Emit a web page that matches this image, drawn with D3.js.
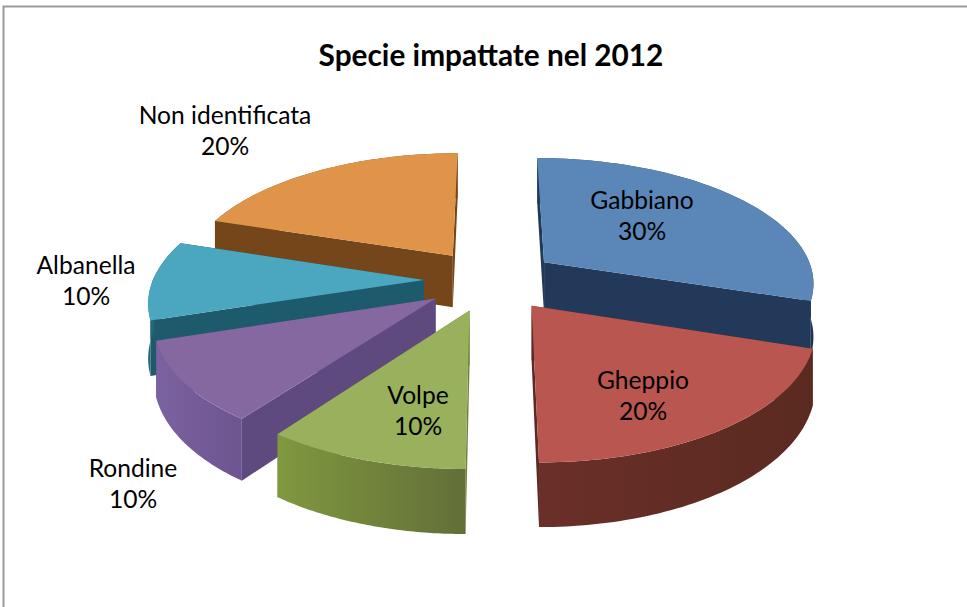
<!DOCTYPE html>
<html><head><meta charset="utf-8">
<script src="https://cdn.jsdelivr.net/npm/d3@7"></script>
<style>html,body{margin:0;background:#fff}svg{display:block}text{font-family:Lato,"Open Sans",sans-serif;fill:#000}</style>
</head><body><svg id="c" width="967" height="607"></svg>
<script>
const categories=["Gabbiano","Gheppio","Volpe","Rondine","Albanella","Non identificata"];
const values=[30,20,10,10,10,20];
const topColors=["#5a87b8","#b95650","#99b05c","#8568a0","#4ba6c0","#e09449"];
const sideColors=["#23395a","#5c2a22","#6d8038","#5f4a80","#1d5a6c","#744619"];
const rimLeft=["#2a4a70","#6a2f28","#80983f","#7b62a0","#23677b","#8a5520"];
const rimRight=["#203650","#5a2a20","#626f38","#6d5590","#1f5a6c","#7a4a1c"];
const drawOrder=[5,0,4,3,1,2];
const labelAnchors=[[642,201],[643,381],[418,396],[133,469],[86,266],[225,116]];

const W=967,H=607,cx=491,cy=280,R=271,explode=67,persp=0.15,tilt=0.46,depth=53;
const svg=d3.select("#c");
const defs=svg.append("defs");
svg.append("path").attr("d",`M3.5,${H} V6.5 H${W}`).attr("fill","none").attr("stroke","#9a9a9a").attr("stroke-width",2);
const radius=d3.scaleLinear().domain([0,1]).range([0,R]);
const pie=d3.pie().sort(null).startAngle(0).endAngle(2*Math.PI)(values);
function project(X,Z,h){const f=1/(1+persp*Z/R);return [cx+X*f,cy+(-Z*tilt+h*depth)*f];}
function pt(a,r,e,h){return project(Math.sin(e)*explode+Math.sin(a)*radius(r),Math.cos(e)*explode+Math.cos(a)*radius(r),h);}
const line=d3.line();
const g=svg.append("g");
drawOrder.forEach(i=>{
  const s=pie[i],mid=(s.startAngle+s.endAngle)/2;
  const arc=d3.range(0,61).map(t=>s.startAngle+(s.endAngle-s.startAngle)*t/60);
  const apexT=pt(0,0,mid,0),apexB=pt(0,0,mid,1);
  const side=a=>[apexT,pt(a,1,mid,0),pt(a,1,mid,1),apexB];
  const xs=arc.map(a=>pt(a,1,mid,0)[0]);
  const id="rim"+i;
  const grad=defs.append("linearGradient").attr("id",id).attr("gradientUnits","userSpaceOnUse")
    .attr("x1",d3.min(xs)).attr("x2",d3.max(xs)).attr("y1",0).attr("y2",0);
  grad.append("stop").attr("offset",0).attr("stop-color",rimLeft[i]);
  grad.append("stop").attr("offset",1).attr("stop-color",rimRight[i]);
  const rim=as=>{
    if(as.length<2) return;
    const top=as.map(a=>pt(a,1,mid,0)),bot=as.map(a=>pt(a,1,mid,1)).reverse();
    g.append("path").attr("d",line(top.concat(bot))+"Z").attr("fill",`url(#${id})`);
  };
  rim(arc.filter(a=>Math.cos(a)>=-0.03));
  [s.startAngle,s.endAngle].forEach(a=>g.append("path").attr("d",line(side(a))+"Z").attr("fill",sideColors[i]));
  rim(arc.filter(a=>Math.cos(a)<=0.03));
  g.append("path").attr("d",line([apexT].concat(arc.map(a=>pt(a,1,mid,0))))+"Z").attr("fill",topColors[i]);
});
const total=d3.sum(values),pct=d3.format(".0%");
categories.forEach((c,i)=>{
  const t=svg.append("text").attr("text-anchor","middle").attr("font-size",24.6);
  t.append("tspan").attr("x",labelAnchors[i][0]).attr("y",labelAnchors[i][1]+8).text(c);
  t.append("tspan").attr("x",labelAnchors[i][0]).attr("y",labelAnchors[i][1]+39).text(pct(values[i]/total));
});
svg.append("text").attr("x",491).attr("y",66).attr("text-anchor","middle").attr("font-size",29.8).attr("font-weight",700).text("Specie impattate nel 2012");
</script></body></html>
